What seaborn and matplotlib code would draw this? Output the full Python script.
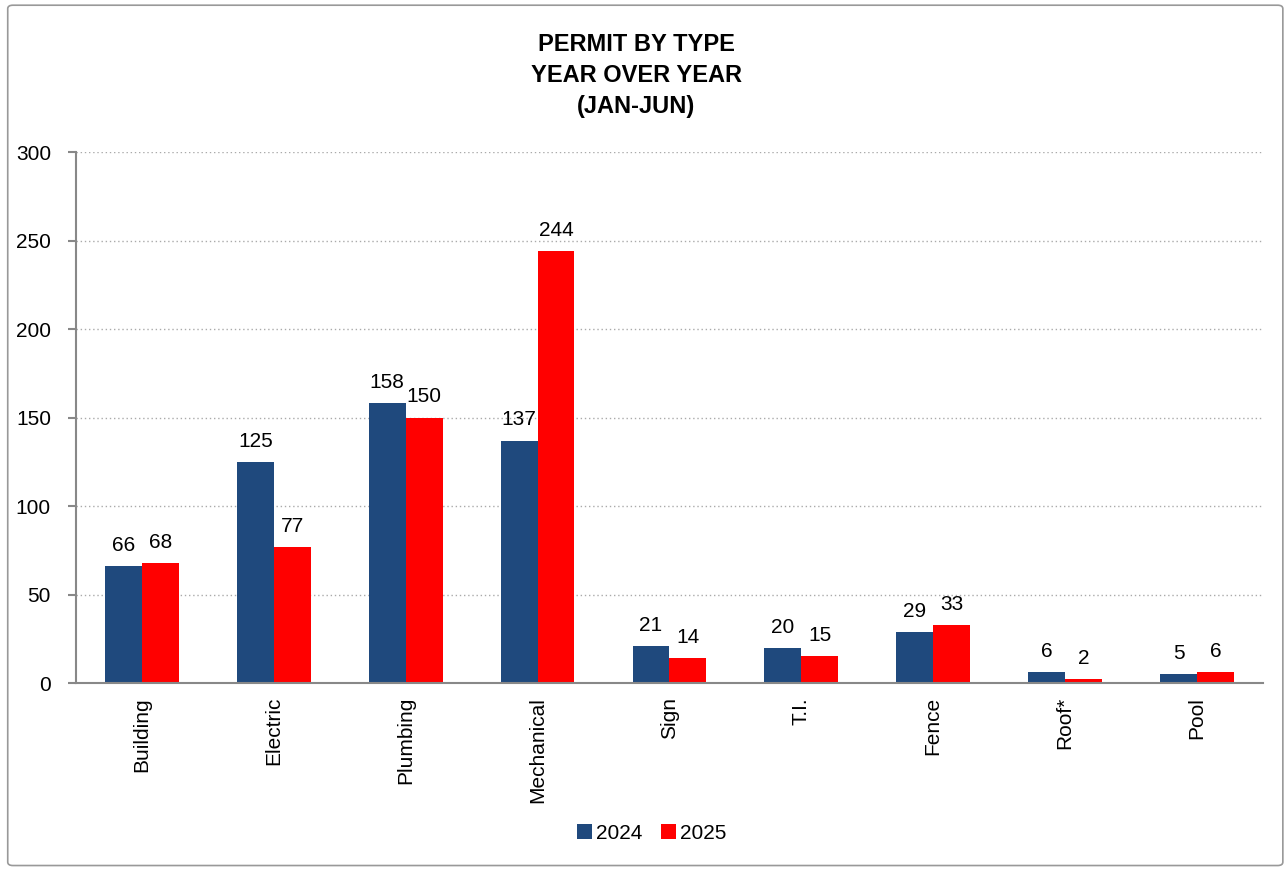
import pandas as pd
import matplotlib.pyplot as plt
import seaborn as sns
from matplotlib.patches import FancyBboxPatch

# 数据
types = ['Building', 'Electric', 'Plumbing', 'Mechanical', 'Sign', 'T.I.', 'Fence', 'Roof*', 'Pool']
y2024 = [66, 125, 158, 137, 21, 20, 29, 6, 5]
y2025 = [68, 77, 150, 244, 14, 15, 33, 2, 6]
years = ['2024', '2025']

sns.set_style('white')
plt.rcParams['font.family'] = ['Liberation Sans', 'DejaVu Sans']
plt.rcParams['text.color'] = 'black'
plt.rcParams['xtick.color'] = 'black'
plt.rcParams['ytick.color'] = 'black'

df = pd.DataFrame({'type': types * 2,
                   'year': [years[0]] * len(types) + [years[1]] * len(types),
                   'count': y2024 + y2025})

fig = plt.figure(figsize=(12.88, 8.69), dpi=100)
ax = fig.add_axes([0.059, 0.214, 0.9215, 0.611])

# 图框
fig.patches.append(FancyBboxPatch((0.006, 0.004), 0.99, 0.99, boxstyle='round,pad=0,rounding_size=0.004',
                                  transform=fig.transFigure, fill=False, edgecolor='#999999', linewidth=1.2))

sns.barplot(data=df, x='type', y='count', hue='year', palette=['#1F497D', '#FF0000'],
            width=0.56, saturation=1, linewidth=0, ax=ax, legend=True)

for c in ax.containers:
    ax.bar_label(c, fontsize=15, padding=8)

ax.set_ylim(0, 300)
ax.set_yticks(range(0, 301, 50))
ax.set_xlim(-0.5, len(types) - 0.5)
ax.yaxis.grid(True, linestyle=(0, (1, 2)), color='#AAAAAA', linewidth=1)
ax.set_axisbelow(True)

for s in ['top', 'right']:
    ax.spines[s].set_visible(False)
for s in ['left', 'bottom']:
    ax.spines[s].set_color('#888888')
    ax.spines[s].set_linewidth(1.5)

ax.set_xticks([i - 0.5 for i in range(len(types) + 1)], minor=True)
ax.tick_params(axis='x', which='major', length=0, labelsize=15, labelrotation=90, pad=10)
ax.tick_params(axis='x', which='minor', length=6, width=1.5, color='#888888', direction='out')
ax.tick_params(axis='y', length=6, width=1.5, color='#888888', direction='out', labelsize=15, pad=12,
               left=True, labelcolor='black')
ax.set_xlabel('')
ax.set_ylabel('')

fig.suptitle('PERMIT BY TYPE\nYEAR OVER YEAR\n(JAN-JUN)', fontsize=17, fontweight='bold', y=0.962, x=0.494,
             linespacing=1.45)

ax.legend(loc='upper center', bbox_to_anchor=(0.485, -0.23), ncol=2, frameon=False, fontsize=15,
          handlelength=0.7, handleheight=0.7, handletextpad=0.2, columnspacing=0.9)

plt.savefig('out.png', dpi=100)
